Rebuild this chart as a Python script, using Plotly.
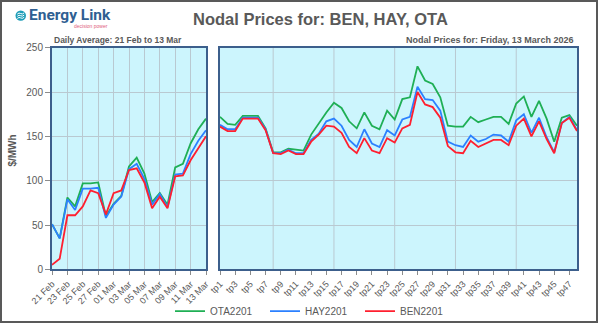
import plotly.graph_objects as go

# ---------------- data ----------------
days = ["21 Feb", "22 Feb", "23 Feb", "24 Feb", "25 Feb", "26 Feb", "27 Feb", "28 Feb",
        "01 Mar", "02 Mar", "03 Mar", "04 Mar", "05 Mar", "06 Mar", "07 Mar", "08 Mar",
        "09 Mar", "10 Mar", "11 Mar", "12 Mar", "13 Mar"]
ota_daily = [51, 35, 81, 71, 97, 97, 98, 60, 74, 83, 116, 126, 108, 76, 86, 73, 115, 119, 142, 158, 170]
hay_daily = [51, 35, 79, 67, 91, 91, 92, 58, 73, 82, 113, 119, 102, 73, 85, 70, 107, 108, 130, 145, 157]
ben_daily = [5, 12, 61, 61, 71, 89, 86, 62, 86, 89, 112, 114, 98, 69, 82, 69, 105, 106, 123, 137, 150]

periods = ["tp%d" % i for i in range(1, 49)]
ota_tp = [172, 164, 163, 173, 173, 173, 159, 132, 132, 136, 135, 134, 152, 165, 177, 188,
          182, 167, 159, 177, 162, 158, 179, 169, 192, 194, 229, 213, 209, 194, 162, 161,
          161, 172, 166, 169, 172, 172, 164, 187, 195, 172, 190, 170, 144, 171, 174, 162]
hay_tp = [163, 158, 158, 171, 171, 171, 158, 131, 131, 135, 131, 131, 146, 153, 167, 170,
          162, 146, 138, 158, 142, 138, 157, 151, 169, 172, 206, 192, 191, 179, 144, 140,
          138, 151, 144, 147, 152, 151, 144, 168, 175, 154, 171, 149, 132, 165, 172, 157]
ben_tp = [161, 156, 156, 170, 170, 170, 157, 131, 130, 134, 130, 130, 144, 152, 162, 161,
          154, 138, 131, 148, 134, 131, 148, 143, 159, 163, 200, 186, 183, 171, 139, 132,
          131, 145, 138, 142, 146, 146, 140, 162, 170, 150, 167, 147, 131, 165, 171, 156]

series_names = ["OTA2201", "HAY2201", "BEN2201"]
day_ticks = days[::2]
tp_ticks = periods[::2]
tp_grid = ["tp8", "tp16", "tp24", "tp32", "tp40"]

# ---------------- styling ----------------
W, H = 600, 326
def px(x): return x / W
def py(y): return 1 - y / H

colors = ["#1FAF55", "#2B80FF", "#FF1F2F"]
frame = "#3C5F8C"
grid = "#B9C9D1"
txt = "#595959"
bg = "#CCF5FD"
base_font = "Liberation Sans, Arial, sans-serif"

fig = go.Figure()
for name, col, yd, yt in zip(series_names, colors,
                             [ota_daily, hay_daily, ben_daily],
                             [ota_tp, hay_tp, ben_tp]):
    fig.add_trace(go.Scatter(x=days, y=yd, mode="lines", name=name, legendgroup=name,
                             line=dict(color=col, width=1.8), xaxis="x", yaxis="y"))
    fig.add_trace(go.Scatter(x=periods, y=yt, mode="lines", name=name, legendgroup=name,
                             showlegend=False, line=dict(color=col, width=1.8),
                             xaxis="x2", yaxis="y2"))

ydom = [py(271), py(48)]
common_x = dict(type="category", tickangle=-45, ticks="outside", ticklen=4,
                tickcolor="#8C8C8C", showline=True, linecolor=frame, linewidth=2,
                mirror=True, gridcolor=grid, gridwidth=1, automargin=False,
                tickfont=dict(family=base_font, size=9, color=txt))
common_y = dict(range=[0, 250], dtick=50, showline=True, linecolor=frame, linewidth=2,
                mirror=True, showgrid=True, gridcolor=grid, gridwidth=1, zeroline=False,
                automargin=False, domain=ydom)

fig.update_layout(
    width=W, height=H,
    margin=dict(l=0, r=0, t=0, b=0),
    paper_bgcolor="white", plot_bgcolor=bg,
    font=dict(family=base_font, color=txt),
    xaxis=dict(domain=[px(52), px(206)], anchor="y", categoryarray=days,
               categoryorder="array", range=[0, len(days) - 1],
               tickmode="array", tickvals=day_ticks, ticktext=day_ticks,
               showgrid=True, **common_x),
    yaxis=dict(anchor="x", ticks="outside", ticklen=5, tickcolor="#8C8C8C",
               tickfont=dict(family=base_font, size=10, color=txt), **common_y),
    xaxis2=dict(domain=[px(220), px(577)], anchor="y2", categoryarray=periods,
                categoryorder="array", range=[0, len(periods) - 1],
                tickmode="array", tickvals=tp_ticks, ticktext=tp_ticks,
                showgrid=False, **common_x),
    yaxis2=dict(anchor="x2", showticklabels=False, ticks="", **common_y),
    legend=dict(orientation="h", x=px(170), y=py(313), xanchor="left", yanchor="middle",
                font=dict(family=base_font, size=10, color=txt),
                bgcolor="rgba(0,0,0,0)", entrywidth=50, tracegroupgap=0),
    showlegend=True,
)

shapes = []
for p in tp_grid:
    shapes.append(dict(type="line", xref="x2", yref="y2 domain", x0=p, x1=p, y0=0, y1=1,
                       line=dict(color=grid, width=1), layer="below"))
# outer border
shapes.append(dict(type="rect", xref="paper", yref="paper", x0=px(1), x1=px(597),
                   y0=py(324), y1=py(1), line=dict(color="#595959", width=2)))
# logo icon
shapes.append(dict(type="circle", xref="paper", yref="paper", x0=px(15.5), x1=px(26),
                   y0=py(21), y1=py(10.5), fillcolor="#1E9DB8", line=dict(width=0)))
for dy in (-2.2, 0.0, 2.2):
    yc = 15.8 + dy
    shapes.append(dict(type="path", xref="paper", yref="paper",
                       path="M %f %f Q %f %f %f %f Q %f %f %f %f" % (
                           px(17.3), py(yc + 0.6), px(19.0), py(yc - 1.2), px(20.7), py(yc),
                           px(22.4), py(yc + 1.2), px(24.2), py(yc - 0.6)),
                       line=dict(color="white", width=1)))
fig.update_layout(shapes=shapes)

ann = [
    dict(text="<b>Nodal Prices for: BEN, HAY, OTA</b>", x=px(320), y=py(19),
         font=dict(family=base_font, size=16.5, color=txt)),
    dict(text="<b>Daily Average: 21 Feb to 13 Mar</b>", x=px(52), y=py(40), xanchor="left",
         font=dict(family=base_font, size=8.5, color=txt)),
    dict(text="<b>Nodal Prices for: Friday, 13 March 2026</b>", x=px(575), y=py(40),
         xanchor="right", font=dict(family=base_font, size=9, color=txt)),
    dict(text="<b>$/MWh</b>", x=px(12.5), y=py(152), textangle=-90,
         font=dict(family=base_font, size=10, color=txt)),
    dict(text="<b>Energy Link</b>", x=px(27), y=py(15.5), xanchor="left",
         font=dict(family="Roboto, sans-serif", size=15.5, color="#2F5F92")),
    dict(text="decision power", x=px(110), y=py(26.5), xanchor="right",
         font=dict(family=base_font, size=5, color="#E0607C")),
]
for a in ann:
    a.setdefault("xanchor", "center")
    a.update(xref="paper", yref="paper", showarrow=False, yanchor="middle")
fig.update_layout(annotations=ann)

fig.write_html("out.html")
